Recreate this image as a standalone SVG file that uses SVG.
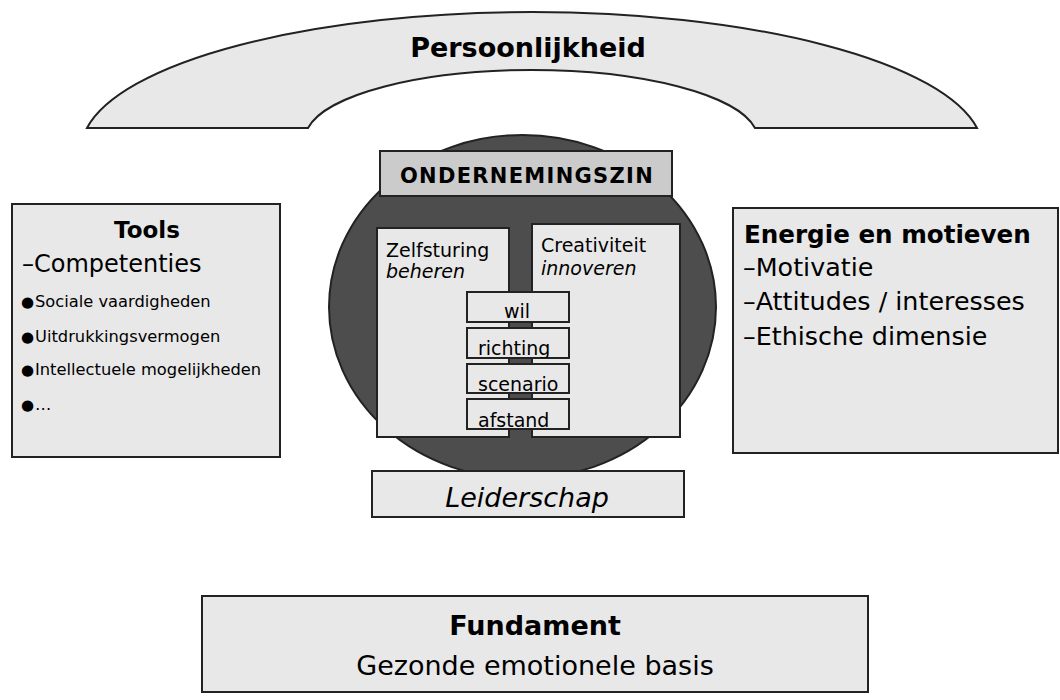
<svg xmlns="http://www.w3.org/2000/svg" width="1060" height="700" viewBox="0 0 1060 700">
<style>
  text { font-family: "DejaVu Sans", Verdana, sans-serif; fill: #000; }
  .box { fill: #e8e8e8; stroke: #222; stroke-width: 2; }
  .dark { fill: #4d4d4d; stroke: #222; stroke-width: 2; }
  .mid { fill: #cbcbcb; stroke: #222; stroke-width: 2; }
  .b { font-weight: bold; }
  .i { font-style: italic; }
  .dot { font-size: 15px; }
</style>
<defs>
  <clipPath id="cWil"><rect x="467" y="292" width="102" height="30"/></clipPath>
  <clipPath id="cRichting"><rect x="467" y="328" width="102" height="30"/></clipPath>
  <clipPath id="cScenario"><rect x="467" y="364" width="102" height="29"/></clipPath>
  <clipPath id="cAfstand"><rect x="467" y="399" width="102" height="30"/></clipPath>
</defs>
<rect width="1060" height="700" fill="#fff"/>

<g id="persoonlijkheid">
  <path class="box" d="M87,128 A450.8,138 0 0 1 977,128 L755,128 A226.4,69 0 0 0 308,128 Z"/>
  <text class="b" x="528" y="57" font-size="27" text-anchor="middle">Persoonlijkheid</text>
</g>

<g id="kern">
  <ellipse class="dark" cx="522.5" cy="307" rx="193.5" ry="172"/>
</g>

<g id="ondernemingszin">
  <rect class="mid" x="380" y="151" width="292" height="45"/>
  <text class="b" x="527" y="183" font-size="21" letter-spacing="1.3" text-anchor="middle">ONDERNEMINGSZIN</text>
</g>

<g id="zelfsturing">
  <rect class="box" x="377" y="228" width="132" height="209"/>
  <text x="386" y="257" font-size="19">Zelfsturing</text>
  <text class="i" x="386" y="278" font-size="19">beheren</text>
</g>

<g id="creativiteit">
  <rect class="box" x="532" y="224" width="148" height="213"/>
  <text x="541" y="252" font-size="19">Creativiteit</text>
  <text class="i" x="541" y="275" font-size="19">innoveren</text>
</g>

<g id="wil">
  <rect class="box" x="467" y="292" width="102" height="30"/>
  <text x="504" y="318" font-size="19" clip-path="url(#cWil)">wil</text>
</g>
<g id="richting">
  <rect class="box" x="467" y="328" width="102" height="30"/>
  <text x="478" y="354.5" font-size="19" clip-path="url(#cRichting)">richting</text>
</g>
<g id="scenario">
  <rect class="box" x="467" y="364" width="102" height="29"/>
  <text x="478" y="390.5" font-size="19" clip-path="url(#cScenario)">scenario</text>
</g>
<g id="afstand">
  <rect class="box" x="467" y="399" width="102" height="30"/>
  <text x="478" y="426.5" font-size="19" clip-path="url(#cAfstand)">afstand</text>
</g>

<g id="leiderschap">
  <rect class="box" x="372" y="471" width="312" height="46"/>
  <text class="i" x="527" y="507" font-size="27" text-anchor="middle">Leiderschap</text>
</g>

<g id="tools">
  <rect class="box" x="12" y="204" width="268" height="253"/>
  <text class="b" x="147" y="238" font-size="23" text-anchor="middle">Tools</text>
  <text x="22" y="272" font-size="24">–Competenties</text>
  <text x="21" y="307" font-size="16.3"><tspan class="dot">●</tspan><tspan x="35">Sociale vaardigheden</tspan></text>
  <text x="21" y="342" font-size="16.3"><tspan class="dot">●</tspan><tspan x="35">Uitdrukkingsvermogen</tspan></text>
  <text x="21" y="375" font-size="16.3"><tspan class="dot">●</tspan><tspan x="35">Intellectuele mogelijkheden</tspan></text>
  <text x="21" y="410" font-size="16.3"><tspan class="dot">●</tspan><tspan x="35">…</tspan></text>
</g>

<g id="energie">
  <rect class="box" x="733" y="208" width="325" height="245"/>
  <text class="b" x="744" y="243" font-size="24.6">Energie en motieven</text>
  <text x="743" y="276" font-size="25.4">–Motivatie</text>
  <text x="743" y="310" font-size="25.4">–Attitudes / interesses</text>
  <text x="743" y="345" font-size="25.4">–Ethische dimensie</text>
</g>

<g id="fundament">
  <rect class="box" x="202" y="596" width="666" height="96"/>
  <text class="b" x="535" y="635" font-size="27" text-anchor="middle">Fundament</text>
  <text x="535" y="675" font-size="27" text-anchor="middle">Gezonde emotionele basis</text>
</g>

<g id="connectors"></g>
</svg>
